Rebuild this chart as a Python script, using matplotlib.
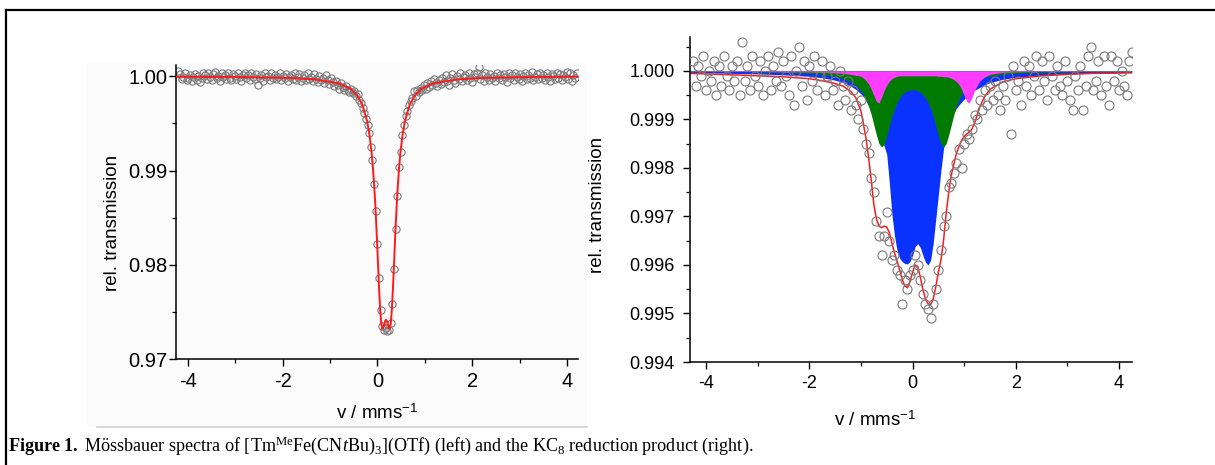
import numpy as np
import matplotlib
matplotlib.use("Agg")
import matplotlib.pyplot as plt
from matplotlib.lines import Line2D
from matplotlib.patches import Rectangle
from matplotlib.ticker import MultipleLocator, FormatStrFormatter

plt.rcParams["font.family"] = ["Liberation Sans", "DejaVu Sans"]
plt.rcParams["mathtext.fontset"] = "custom"
plt.rcParams["mathtext.rm"] = "Liberation Serif"
plt.rcParams["mathtext.it"] = "Liberation Serif:italic"
plt.rcParams["mathtext.bf"] = "Liberation Serif:bold"
plt.rcParams["mathtext.sf"] = "Liberation Sans"
plt.rcParams["axes.unicode_minus"] = False

# ---- left spectrum: [Tm(Me)Fe(CNtBu)3](OTf) ----
LEFT_V_RANGE = (-4.2, 4.2)
LEFT_T = [
    1.0006, 1.0002, 0.9997, 0.9999, 1.0003, 0.9996, 0.9998, 1.0001, 0.9995, 0.9999,
    1.0002, 0.9996, 1.0000, 0.9994, 0.9998, 1.0003, 1.0001, 0.9997, 1.0004, 0.9999,
    0.9996, 1.0002, 1.0005, 0.9998, 1.0000, 0.9995, 1.0003, 0.9999, 1.0001, 0.9997,
    1.0004, 0.9998, 0.9996, 1.0002, 1.0000, 0.9997, 1.0003, 0.9999, 0.9995, 1.0001,
    1.0003, 0.9998, 1.0001, 0.9996, 1.0004, 0.9999, 0.9997, 1.0002, 0.9991, 0.9998,
    1.0001, 0.9995, 1.0003, 0.9999, 1.0000, 0.9996, 1.0004, 0.9998, 1.0001, 0.9997,
    0.9999, 1.0003, 0.9996, 1.0000, 0.9998, 1.0002, 0.9995, 0.9999, 1.0001, 0.9997,
    1.0003, 0.9996, 0.9999, 1.0002, 0.9995, 0.9998, 1.0001, 0.9996, 1.0004, 0.9997,
    0.9999, 0.9995, 1.0002, 0.9997, 0.9994, 1.0000, 0.9996, 0.9998, 0.9993, 1.0001,
    0.9996, 0.9992, 0.9998, 0.9994, 0.9990, 0.9995, 0.9991, 0.9987, 0.9993, 0.9989,
    0.9985, 0.9990, 0.9986, 0.9983, 0.9987, 0.9982, 0.9984, 0.9979, 0.9981, 0.9975,
    0.9972, 0.9966, 0.9961, 0.9955, 0.9948, 0.9940, 0.9925, 0.9911, 0.9886, 0.9857,
    0.9822, 0.9786, 0.9752, 0.9735, 0.9731, 0.9733, 0.9730, 0.9731, 0.9738, 0.9758,
    0.9796, 0.9838, 0.9873, 0.9904, 0.9920, 0.9938, 0.9948, 0.9958, 0.9963, 0.9970,
    0.9974, 0.9977, 0.9984, 0.9979, 0.9985, 0.9983, 0.9988, 0.9986, 0.9991, 0.9987,
    0.9993, 0.9989, 0.9995, 0.9991, 0.9997, 0.9993, 0.9990, 0.9996, 0.9992, 0.9998,
    0.9994, 1.0001, 0.9995, 0.9991, 0.9998, 1.0002, 0.9996, 0.9993, 1.0000, 0.9997,
    1.0003, 0.9995, 0.9999, 1.0001, 0.9996, 1.0004, 0.9998, 0.9994, 1.0002, 0.9999,
    1.0003, 1.0010, 0.9997, 1.0001, 0.9995, 1.0003, 0.9999, 0.9996, 1.0002, 0.9998,
    1.0000, 0.9995, 1.0004, 0.9998, 1.0001, 0.9996, 1.0002, 0.9999, 0.9994, 1.0003,
    0.9998, 1.0001, 0.9996, 1.0004, 0.9999, 0.9997, 1.0002, 0.9995, 1.0000, 1.0003,
    0.9997, 1.0001, 0.9998, 1.0005, 0.9996, 0.9999, 1.0002, 0.9997, 1.0004, 0.9998,
    1.0001, 0.9996, 1.0003, 0.9999, 0.9995, 1.0002, 1.0000, 0.9997, 1.0004, 0.9998,
    1.0002, 0.9996, 1.0001, 0.9999, 1.0005, 0.9997, 1.0003, 0.9995, 1.0001, 0.9998,
    1.0003,
]
LEFT_FIT_V = [-4.25, -2.82, -1.82, -1.32, -0.82, -0.57, -0.42, -0.32, -0.22, -0.17,
              -0.12, -0.095, -0.07, -0.045, -0.02, 0.005, 0.03, 0.055, 0.08, 0.105,
              0.13, 0.155, 0.18, 0.205, 0.23, 0.255, 0.28, 0.305, 0.33, 0.355,
              0.38, 0.405, 0.43, 0.455, 0.48, 0.53, 0.58, 0.68, 0.78, 0.93,
              1.18, 1.68, 2.18, 3.18, 4.25]
LEFT_FIT_T = [0.99996, 0.99992, 0.99982, 0.99967, 0.99926, 0.99868, 0.99792, 0.99699, 0.99527, 0.99383,
              0.99169, 0.99024, 0.98846, 0.98629, 0.98372, 0.98083, 0.97790, 0.97537, 0.97374, 0.97320,
              0.97346, 0.97395, 0.97417, 0.97395, 0.97346, 0.97320, 0.97374, 0.97537, 0.97790, 0.98083,
              0.98372, 0.98629, 0.98846, 0.99024, 0.99169, 0.99383, 0.99527, 0.99699, 0.99792, 0.99868,
              0.99926, 0.99967, 0.99982, 0.99992, 0.99996]

# ---- right spectrum: KC8 reduction product ----
RIGHT_V_RANGE = (-4.25, 4.25)
RIGHT_T = [
    1.0002, 0.9997, 1.0001, 0.9999, 1.0003, 0.9996, 1.0000, 0.9998, 1.0002, 0.9995,
    1.0001, 0.9997, 1.0003, 0.9999, 0.9996, 1.0001, 0.9998, 1.0002, 0.9995, 1.0006,
    0.9998, 1.0001, 0.9996, 1.0003, 0.9999, 0.9997, 1.0002, 0.9995, 1.0000, 1.0003,
    0.9996, 1.0001, 0.9998, 1.0004, 0.9997, 1.0002, 0.9999, 0.9995, 1.0003, 0.9993,
    1.0000, 1.0005, 0.9997, 1.0002, 0.9994, 1.0001, 0.9998, 1.0003, 0.9996, 0.9999,
    1.0002, 0.9995, 0.9999, 1.0001, 0.9996, 0.9998, 0.9993, 1.0000, 0.9997, 0.9994,
    0.9998, 0.9992, 0.9996, 0.9993, 0.9990, 0.9994, 0.9988, 0.9985, 0.9983, 0.9978,
    0.9975, 0.9969, 0.9966, 0.9962, 0.9966, 0.9971, 0.9965, 0.9961, 0.9962, 0.9959,
    0.9958, 0.9952, 0.9957, 0.9955, 0.9958, 0.9959, 0.9962, 0.9960, 0.9957, 0.9954,
    0.9952, 0.9951, 0.9949, 0.9952, 0.9955, 0.9959, 0.9963, 0.9968, 0.9970, 0.9976,
    0.9977, 0.9979, 0.9981, 0.9984, 0.9980, 0.9985, 0.9987, 0.9986, 0.9988, 0.9991,
    0.9990, 0.9994, 0.9992, 0.9996, 0.9993, 0.9997, 0.9994, 0.9998, 0.9995, 0.9992,
    0.9997, 0.9994, 0.9999, 0.9987, 1.0001, 0.9996, 0.9998, 0.9993, 1.0002, 0.9997,
    1.0001, 0.9995, 0.9999, 1.0003, 0.9996, 1.0002, 0.9998, 0.9994, 1.0003, 0.9999,
    0.9996, 1.0001, 0.9997, 0.9995, 1.0002, 0.9998, 0.9994, 0.9992, 0.9999, 0.9996,
    1.0001, 0.9992, 0.9997, 1.0003, 1.0005, 0.9996, 0.9998, 1.0002, 0.9995, 1.0003,
    0.9997, 0.9993, 1.0003, 0.9998, 1.0002, 0.9996, 1.0000, 0.9997, 0.9995, 1.0002,
    1.0004,
]
RIGHT_FIT_V = [-4.31, -3.5, -3.0, -2.5, -2.0, -1.75, -1.5, -1.35, -1.2, -1.1,
               -1.0, -0.95, -0.9, -0.85, -0.8, -0.75, -0.7, -0.65, -0.6, -0.55,
               -0.5, -0.45, -0.4, -0.35, -0.3, -0.25, -0.2, -0.15, -0.1, -0.05,
               0.0, 0.05, 0.1, 0.15, 0.2, 0.25, 0.3, 0.35, 0.4, 0.45,
               0.5, 0.55, 0.6, 0.65, 0.7, 0.75, 0.8, 0.85, 0.9, 0.95,
               1.0, 1.05, 1.1, 1.15, 1.2, 1.3, 1.4, 1.5, 1.75, 2.0,
               2.5, 3.0, 3.5, 4.25]
RIGHT_FIT_T = [0.99995, 0.99992, 0.99990, 0.99988, 0.99984, 0.99980, 0.99974, 0.99969, 0.99958, 0.99945,
               0.99918, 0.99890, 0.99860, 0.99820, 0.99775, 0.99725, 0.99695, 0.99680, 0.99677, 0.99680,
               0.99678, 0.99667, 0.99645, 0.99625, 0.99608, 0.99590, 0.99570, 0.99557, 0.99553, 0.99565,
               0.99585, 0.99600, 0.99597, 0.99575, 0.99550, 0.99530, 0.99520, 0.99518, 0.99530, 0.99555,
               0.99585, 0.99610, 0.99650, 0.99705, 0.99750, 0.99785, 0.99808, 0.99830, 0.99845, 0.99857,
               0.99865, 0.99870, 0.99874, 0.99880, 0.99892, 0.99925, 0.99948, 0.99962, 0.99978, 0.99984,
               0.99990, 0.99993, 0.99995, 0.99996]
SITE_BLUE_T = [0.99997, 0.99995, 0.99994, 0.99992, 0.99989, 0.99986, 0.99981, 0.99976, 0.99969, 0.99962,
               0.99953, 0.99947, 0.99938, 0.99928, 0.99916, 0.99902, 0.99888, 0.99874, 0.99860, 0.99845,
               0.99828, 0.99770, 0.99705, 0.99660, 0.99630, 0.99614, 0.99607, 0.99603, 0.99602, 0.99607,
               0.99620, 0.99638, 0.99644, 0.99636, 0.99620, 0.99606, 0.99600, 0.99610, 0.99645, 0.99695,
               0.99745, 0.99795, 0.99840, 0.99870, 0.99890, 0.99905, 0.99915, 0.99923, 0.99930, 0.99936,
               0.99942, 0.99947, 0.99952, 0.99956, 0.99960, 0.99966, 0.99972, 0.99976, 0.99983, 0.99987,
               0.99991, 0.99994, 0.99995, 0.99997]
SITE_GREEN_T = [0.99999, 0.99999, 0.99998, 0.99997, 0.99995, 0.99993, 0.99989, 0.99985, 0.99978, 0.99971,
                0.99959, 0.99951, 0.99940, 0.99927, 0.99910, 0.99889, 0.99868, 0.99850, 0.99843, 0.99849,
                0.99866, 0.99887, 0.99906, 0.99922, 0.99935, 0.99944, 0.99951, 0.99956, 0.99959, 0.99961,
                0.99961, 0.99961, 0.99959, 0.99956, 0.99951, 0.99944, 0.99935, 0.99922, 0.99906, 0.99887,
                0.99866, 0.99849, 0.99843, 0.99850, 0.99868, 0.99889, 0.99910, 0.99927, 0.99940, 0.99951,
                0.99959, 0.99965, 0.99971, 0.99975, 0.99978, 0.99983, 0.99987, 0.99989, 0.99993, 0.99995,
                0.99997, 0.99998, 0.99999, 0.99999]
SITE_MAGENTA_T = [1.00000, 0.99999, 0.99999, 0.99998, 0.99998, 0.99997, 0.99996, 0.99995, 0.99993, 0.99991,
                  0.99989, 0.99985, 0.99980, 0.99973, 0.99962, 0.99949, 0.99937, 0.99934, 0.99946, 0.99960,
                  0.99971, 0.99979, 0.99984, 0.99987, 0.99989, 0.99990, 0.99990, 0.99990, 0.99990, 0.99990,
                  0.99990, 0.99990, 0.99990, 0.99990, 0.99990, 0.99990, 0.99990, 0.99990, 0.99990, 0.99990,
                  0.99989, 0.99989, 0.99988, 0.99988, 0.99987, 0.99985, 0.99982, 0.99978, 0.99972, 0.99962,
                  0.99949, 0.99937, 0.99934, 0.99945, 0.99960, 0.99979, 0.99988, 0.99993, 0.99997, 0.99998,
                  0.99999, 0.99999, 1.00000, 1.00000]

CAPTION = (r"$\mathbf{Figure\ 1.}$ Mössbauer spectra of [Tm$^{\mathrm{Me}}$Fe(CN$\mathit{t}$Bu)$_{\mathrm{3}}$]"
           r"(OTf) (left) and the KC$_{\mathrm{8}}$ reduction product (right).")

W, H = 1215, 465
POINT_EDGE = "#7a7a7a"
FIT_RED = "#ff1a1a"


def style_axes(ax, tick_size, ypad):
    for side in ("top", "right"):
        ax.spines[side].set_visible(False)
    for side in ("left", "bottom"):
        ax.spines[side].set_linewidth(1.1)
    ax.tick_params(which="major", direction="out", length=5, width=1.0, labelsize=tick_size)
    ax.tick_params(which="minor", direction="out", length=3, width=0.9)
    ax.tick_params(axis="y", pad=ypad)
    ax.tick_params(axis="x", pad=4)
    ax.xaxis.set_major_locator(MultipleLocator(2))
    ax.xaxis.set_minor_locator(MultipleLocator(1))
    ax.xaxis.set_major_formatter(FormatStrFormatter("%d"))
    ax.set_facecolor("none")


fig = plt.figure(figsize=(W / 100, H / 100), dpi=100)

# pasted-image background of the left panel and the outer frame
fig.patches.append(Rectangle((87 / W, 1 - 427 / H), 500 / W, 364 / H, transform=fig.transFigure,
                             facecolor="#fbfbfb", edgecolor="none", zorder=-10))
fig.add_artist(Line2D([97 / W, 587 / W], [1 - 427 / H] * 2, color="#d2d2d2", lw=1.2, zorder=-9))
fig.add_artist(Line2D([6 / W, 6 / W], [0, 1 - 10 / H], color="black", lw=1.6))
fig.add_artist(Line2D([6 / W, 1], [1 - 10 / H] * 2, color="black", lw=1.6))

# left panel
ax1 = fig.add_axes([176 / W, 1 - 359 / H, 402 / W, 294 / H])
v_left = np.linspace(LEFT_V_RANGE[0], LEFT_V_RANGE[1], len(LEFT_T))
ax1.plot(v_left, LEFT_T, "o", ms=5.2, mfc="none", mec=POINT_EDGE, mew=0.8, zorder=2)
ax1.plot(LEFT_FIT_V, LEFT_FIT_T, color=FIT_RED, lw=1.4, zorder=3)
ax1.set_xlim(-4.25, 4.23)
ax1.set_ylim(0.97, 1.0012)
ax1.yaxis.set_major_locator(MultipleLocator(0.01))
ax1.yaxis.set_minor_locator(MultipleLocator(0.005))
ax1.yaxis.set_major_formatter(FormatStrFormatter("%.2f"))
style_axes(ax1, 14.5, 1)
ax1.set_ylabel("rel. transmission", fontsize=13.5)
ax1.yaxis.set_label_coords(-0.137, 0.463)
ax1.set_xlabel(r"v / mms$^{\mathsf{-1}}$", fontsize=13.5)
ax1.xaxis.set_label_coords(0.5, -0.153)

# right panel
ax2 = fig.add_axes([690 / W, 1 - 362 / H, 442 / W, 325 / H])
ax2.fill_between(RIGHT_FIT_V, 1.0, SITE_BLUE_T, color="#0a32ff", lw=0, zorder=1)
ax2.fill_between(RIGHT_FIT_V, 1.0, SITE_GREEN_T, color="#007a00", lw=0, zorder=1.1)
ax2.fill_between(RIGHT_FIT_V, 1.0, SITE_MAGENTA_T, color="#ff3cff", lw=0, zorder=1.2)
v_right = np.linspace(RIGHT_V_RANGE[0], RIGHT_V_RANGE[1], len(RIGHT_T))
ax2.plot(RIGHT_FIT_V, RIGHT_FIT_T, color=FIT_RED, lw=1.1, zorder=2)
ax2.plot(v_right, RIGHT_T, "o", ms=6.5, mfc="none", mec=POINT_EDGE, mew=0.8, zorder=3)
ax2.set_xlim(-4.31, 4.25)
ax2.set_ylim(0.994, 1.0007)
ax2.yaxis.set_major_locator(MultipleLocator(0.001))
ax2.yaxis.set_minor_locator(MultipleLocator(0.0005))
ax2.yaxis.set_major_formatter(FormatStrFormatter("%.3f"))
style_axes(ax2, 13, 6)
ax2.set_ylabel("rel. transmission", fontsize=13.5)
ax2.yaxis.set_label_coords(-0.19, 0.483)
ax2.set_xlabel(r"v / mms$^{\mathsf{-1}}$", fontsize=13.5)
ax2.xaxis.set_label_coords(0.419, -0.148)

fig.text(8 / W, 1 - 446 / H, CAPTION, fontsize=13.1, family="Liberation Serif", va="center", ha="left")

fig.savefig("out.png", dpi=100)
